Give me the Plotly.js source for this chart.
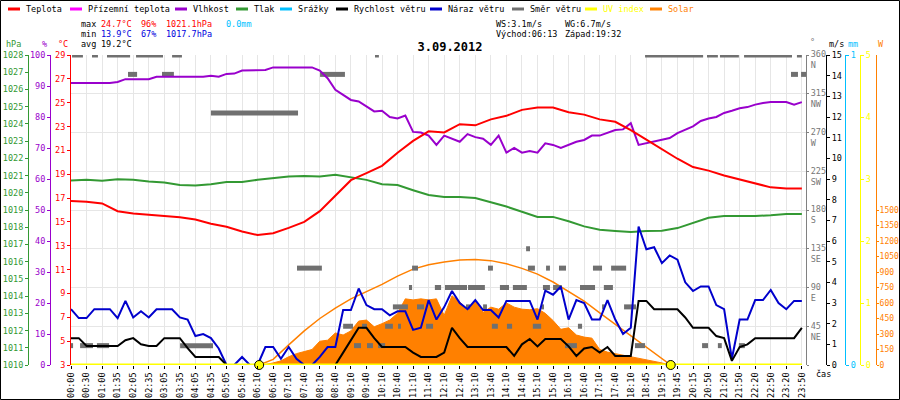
<!DOCTYPE html>
<html><head><meta charset="utf-8">
<script src="https://cdn.plot.ly/plotly-3.0.1.min.js"></script>
<style>html,body{margin:0;padding:0;background:#fff}#chart{width:900px;height:400px}</style>
</head><body><div id="chart"></div>
<script>
// ---------- DATA ----------
const timeLabels = ['00:00','00:30','01:00','01:35','02:05','02:35','03:05','03:35','04:05','04:35','05:05','05:40',
 '06:10','06:40','07:10','07:40','08:10','08:40','09:10','09:40','10:10','10:40','11:10','11:40','12:10','12:40',
 '13:10','13:40','14:10','14:40','15:10','15:40','16:10','16:40','17:10','17:40','18:10','18:45','19:15','19:45',
 '20:15','20:50','21:20','21:50','22:20','22:50','23:20','23:50'];

// values at every tick label (every 6th sample)
const temperature = [16.76,16.7,16.55,15.9,15.7,15.6,15.5,15.4,15.2,14.85,
 14.6,14.2,13.9,14.05,14.5,15.0,15.9,17.2,18.5,19.1,
 19.7,20.8,21.8,22.6,22.5,23.2,23.1,23.6,23.9,24.4,
 24.6,24.6,24.2,24.0,23.6,23.4,22.7,21.9,21.1,20.3,
 19.6,19.3,18.9,18.55,18.2,17.9,17.8,17.8];
const pressure = [1020.72,1020.76,1020.7,1020.78,1020.76,1020.65,1020.6,1020.45,1020.42,1020.5,
 1020.63,1020.62,1020.75,1020.85,1020.95,1020.97,1020.95,1021.05,1020.9,1020.75,
 1020.5,1020.45,1020.15,1019.87,1019.76,1019.76,1019.7,1019.45,1019.2,1018.9,
 1018.6,1018.6,1018.35,1018.05,1017.85,1017.78,1017.72,1017.78,1017.8,1017.95,
 1018.24,1018.55,1018.65,1018.65,1018.65,1018.7,1018.77,1018.77];
const solarMax = [null,null,null,null,null,null,null,null,null,null,null,null,null,
 55,195,330,450,550,640,707,780,860,928,970,997,1016,1020,1010,980,935,880,803,715,619,505,395,280,172,65,
 null,null,null,null,null,null,null,null,null];
const uvIndex = timeLabels.map(() => 0);
const rain = timeLabels.map(() => 0);

// values at every 3rd sample
const humidity = [91,91,91,91,91,91,91.3,92.2,92.2,92.2,
 92.2,93,93,93,93,93,93,93,93.3,93,
 93.9,94,95,95,95.2,95.2,96,96,96,96,
 96,96,95,92.5,88.8,87,85.5,85,83.5,81.8,
 82,80,79.5,80.5,75.2,75,74,71,74,73,
 72,74.5,73.5,73,71,74,68.5,70,68.5,69,
 68.5,71.5,71,70,71,72,72.6,74,74,75,
 75.8,76,78,71,71.5,72,72.5,73.2,74.8,76,
 77,78.7,79.5,80,81.3,82,82.8,83.2,84,84.5,
 84.8,84.8,84.8,84,84.8];
const windGust = [2.7,2.27,2.27,2.7,2.7,2.7,2.27,3.1,2.3,2.6,
 2.3,2.7,2.7,2.7,2.3,2.2,1.4,1.5,1.3,0.8,
 0,0,0.39,0,0,0.87,0.87,0.3,0.87,0.3,
 0,0,0.39,0.87,0.87,2.66,2.66,3.7,2.9,2.7,
 2.7,2.4,2.6,2.6,1.7,1.8,3.14,2.2,2.8,3.58,
 3.0,2.7,3.14,2.66,2.66,2.3,3.1,3.1,3.1,3.1,
 2.2,3.6,3.4,3.8,2.2,3.14,3.0,2.2,2.2,3.14,
 2.2,1.5,1.8,6.7,5.6,5.7,4.93,5.3,5.1,4.0,
 3.58,3.8,3.8,2.9,2.7,0.3,2.2,2.2,3.14,3.14,
 3.63,3.0,2.7,3.1,3.1];
const windSpeed = [1.3,1.3,0.92,0.92,0.92,0.92,0.92,1.2,1.3,1.0,
 0.92,0.92,1.3,1.3,1.3,0.82,0.39,0.39,0.39,0.39,
 0,0,0,0,0,0,0,0,0,0,
 0,0,0,0,0,0.6,1.2,1.8,1.8,1.3,
 0.87,0.87,0.87,0.87,0.6,0.39,0.39,0.39,0.6,1.8,
 1.3,0.87,0.87,0.87,0.87,0.87,0.87,0.44,1.0,1.26,
 0.9,1.26,1.26,1.26,0.9,0.44,0.8,0.87,0.6,0.87,
 0.44,0.44,0.44,3.1,3.1,2.7,2.7,2.7,2.7,2.3,
 1.8,1.8,1.8,1.4,1.3,0.2,0.87,1.0,1.3,1.3,
 1.3,1.3,1.3,1.3,1.8];
const solar = [null,null,null,null,null,null,null,null,null,null,null,null,
 null,null,null,null,null,null,null,null,null,null,null,null,0,
 5,20,40,80,110,130,150,230,240,310,
 290,330,425,435,370,400,435,500,640,630,
 640,630,640,480,670,610,530,620,510,560,
 540,600,560,540,535,545,500,430,345,360,
 290,270,260,150,125,110,95,85,65,50,
 35,20,0,
 null,null,null,null,null,null,null,null,null,null,null,null,null,null,null,null,null];

// wind direction runs (sample index from..to, degrees)
const dirFrom = [0.4,8.1,13.9,25.1,39.0,117.3,221.5,245.4,250.4,259.7,280.1,
 22.0,35.1,96.1,277.8,281.7,
 54.0,
 175.6,
 87.2,131.6,160.9,176.3,183.3,188.3,201.4,208.4,
 130.4,140.4,144.3,153.2,165.5,170.5,182.1,186.0,196.4,205.6,
 124.2,133.5,152.4,159.0,181.4,204.9,213.4,
 105.0,112.3,121.2,126.2,137.0,162.4,168.2,178.2,195.6,
 0,3.5,10.0,42.1,109.2,114.2,118.5,190.6,217.6,243.5,249.6,257.7];
const dirTo = [4.6,10.4,22.8,35.5,42.8,118.8,243.9,249.6,257.7,278.2,282.0,
 25.5,39.7,105.7,280.5,284.4,
 87.6,
 177.1,
 96.8,133.9,162.8,179.0,184.8,191.0,204.9,214.2,
 131.6,142.8,152.8,159.7,169.0,175.9,184.8,189.4,202.2,209.1,
 130.0,136.2,154.0,160.5,182.5,206.0,218.0,
 108.8,114.2,124.2,127.3,139.7,164.7,170.2,181.4,197.2,
 0.8,8.5,14.7,54.8,111.9,116.5,121.2,195.2,221.5,245.8,251.1,260.0];
const dirDeg = [360,360,360,360,360,360,360,360,360,360,360,
 337.5,337.5,337.5,337.5,337.5,
 292.5,
 135,
 112.5,112.5,112.5,112.5,112.5,112.5,112.5,112.5,
 90,90,90,90,90,90,90,90,90,90,
 67.5,67.5,67.5,67.5,67.5,67.5,67.5,
 45,45,45,45,45,45,45,45,45,
 22.5,22.5,22.5,22.5,22.5,22.5,22.5,22.5,22.5,22.5,22.5,22.5];

const sunrise = '06:13', sunset = '19:32';
const dirTicks = [0,45,90,135,180,225,270,315,360];
const dirNames = ['','NE','E','SE','S','SW','W','NW','N'];
const solarTicks = [0,150,300,450,600,750,900,1050,1200,1350,1500];

// ---------- HELPERS ----------
const W=900,H=400,T=55,B=35;
const X = px => px/W;
const Y = py => (H-B-py)/(H-T-B);
const FONT = 'DejaVu Sans Mono';
const FS = 8.5;
const C = {red:'#ff0000', mag:'#ff00ff', pur:'#9900cc', grn:'#339933', cyan:'#00bfff', blk:'#000000',
  blue:'#0000cc', gray:'#707070', yel:'#ffff00', org:'#ff8000', grid:'#e6e6e6'};

const idx6 = timeLabels.map((_,k)=>6*k);
const idx3 = humidity.map((_,m)=>3*m);
const toMin = t => { const p=t.split(':'); return +p[0]*60 + +p[1]; };
function timeToIdx(t){
  const v = toMin(t);
  for(let k=0;k<timeLabels.length-1;k++){
    const a=toMin(timeLabels[k]), b=toMin(timeLabels[k+1]);
    if(v>=a && v<=b) return 6*k + 6*(v-a)/(b-a);
  }
  return 6*(timeLabels.length-1);
}
const riseI = timeToIdx(sunrise), setI = timeToIdx(sunset);

const dx=[], dy=[];
dirFrom.forEach((a,j)=>{ dx.push(a, dirTo[j], null); dy.push(dirDeg[j], dirDeg[j], null); });

const sx=[riseI], sy=[0];
solarMax.forEach((v,k)=>{ if(v!==null){ sx.push(idx6[k]); sy.push(v); } });
sx.push(setI); sy.push(0);

// ---------- TRACES ----------
const traces = [
  {x:idx3, y:solar, yaxis:'y', type:'scatter', mode:'lines', fill:'tozeroy', fillcolor:C.org,
   line:{color:C.org, width:1}, connectgaps:false, hoverinfo:'skip'},
  {x:sx, y:sy, yaxis:'y', type:'scatter', mode:'lines', line:{color:C.org, width:1.5}, hoverinfo:'skip'},
  {x:dx, y:dy, yaxis:'y2', type:'scatter', mode:'lines', line:{color:C.gray, width:5}, connectgaps:false, hoverinfo:'skip'},
  {x:idx6, y:rain, yaxis:'y3', type:'scatter', mode:'lines', line:{color:C.cyan, width:1}, hoverinfo:'skip'},
  {x:idx6, y:pressure, yaxis:'y4', type:'scatter', mode:'lines', line:{color:C.grn, width:2}, hoverinfo:'skip'},
  {x:idx3, y:humidity, yaxis:'y5', type:'scatter', mode:'lines', line:{color:C.pur, width:2}, hoverinfo:'skip'},
  {x:idx6, y:temperature, yaxis:'y6', type:'scatter', mode:'lines', line:{color:C.red, width:2}, hoverinfo:'skip'},
  {x:idx3, y:windGust, yaxis:'y7', type:'scatter', mode:'lines', line:{color:C.blue, width:2}, hoverinfo:'skip'},
  {x:idx3, y:windSpeed, yaxis:'y7', type:'scatter', mode:'lines', line:{color:C.blk, width:2}, hoverinfo:'skip'},
  {x:idx6, y:uvIndex, yaxis:'y8', type:'scatter', mode:'lines', line:{color:C.yel, width:3}, cliponaxis:false, hoverinfo:'skip'},
  {x:[riseI,setI], y:[0,0], yaxis:'y8', type:'scatter', mode:'markers', cliponaxis:false,
   marker:{size:9, color:C.yel, line:{color:'#000', width:1}}, hoverinfo:'skip'}
];

// ---------- AXES ----------
function yax(color, pos, side, range, extra){
  return Object.assign({
    range:range, anchor:'free', position:X(pos), side:side, overlaying:'y',
    showline:true, linecolor:color, linewidth:1, ticks:'outside', ticklen:3, tickcolor:color, tickwidth:1,
    tickfont:{family:FONT, size:FS, color:color}, showgrid:false, zeroline:false, fixedrange:true
  }, extra||{});
}
const yW = yax(C.org, 876, 'right', [0,3000], {tickmode:'array', tickvals:solarTicks, ticklen:2,
  ticklabelstandoff:-1, tickfont:{family:FONT, size:8, color:C.org}});
delete yW.overlaying;

const layout = {
  width:W, height:H, margin:{l:0,r:0,t:T,b:B,pad:0},
  paper_bgcolor:'#fff', plot_bgcolor:'#fff', showlegend:false,
  font:{family:FONT, size:FS, color:'#000'},
  title:{text:'<b>3.09.2012</b>', x:0.5, xref:'container', xanchor:'center', y:1-47/H, yref:'container', yanchor:'middle',
    font:{family:FONT, size:12, color:'#000'}},
  xaxis:{domain:[X(70),X(806)], range:[-0.386,283.6], tickmode:'array', tickvals:idx6, ticktext:timeLabels,
    tickangle:-90, showgrid:true, gridcolor:C.grid, gridwidth:1, ticks:'outside', ticklen:3, tickcolor:'#000',
    zeroline:false, showline:false, tickfont:{family:FONT, size:FS, color:'#000'}, fixedrange:true},
  yaxis: yW,
  yaxis2: yax('#808080', 806, 'right', [0,360], {tickmode:'array', tickvals:dirTicks,
    ticktext:dirTicks.map((v,i)=> v===0 ? '' : v+'<br>'+dirNames[i]), showgrid:true, gridcolor:C.grid, gridwidth:1,
    tickfont:{family:FONT, size:FS, color:'#777'}, ticklen:2, ticklabelshift:5}),
  yaxis3: yax(C.cyan, 845, 'right', [0,1], {tickmode:'array', tickvals:[0,1]}),
  yaxis4: yax(C.grn, 28, 'left', [1010,1028], {dtick:1, tick0:1010}),
  yaxis5: yax(C.pur, 50, 'left', [0,100], {dtick:10, tick0:0}),
  yaxis6: yax(C.red, 70, 'left', [3,29], {dtick:2, tick0:3}),
  yaxis7: yax(C.blk, 826, 'right', [0,15], {dtick:1, tick0:0}),
  yaxis8: yax(C.yel, 860, 'right', [0,5], {dtick:1, tick0:0}),
  annotations:[], shapes:[]
};

function txt(px, py, text, color, size){
  layout.annotations.push({xref:'paper', yref:'paper', x:X(px), y:Y(py), text:text, showarrow:false,
    xanchor:'left', yanchor:'middle', borderpad:0, font:{family:FONT, size:size||FS, color:color||'#000'}});
}
// legend
const legendItems = [
  [8,20,C.red,'Teplota','#000'],[70,82,C.mag,'Přízemní teplota','#000'],[175,187,C.pur,'Vlhkost','#000'],
  [236,248,C.grn,'Tlak','#000'],[280,292,C.cyan,'Srážky','#000'],[336,348,C.blk,'Rychlost větru','#000'],
  [430,442,C.blue,'Náraz větru','#000'],[512,524,C.gray,'Směr větru','#000'],[585,597,C.yel,'UV index',C.yel],
  [650,662,C.org,'Solar',C.org]];
legendItems.forEach(([a,b,col,label,tc])=>{
  layout.shapes.push({type:'line', xref:'paper', yref:'paper', x0:X(a), x1:X(b), y0:Y(9), y1:Y(9), line:{color:col, width:3}});
  txt(b+5, 9, label, tc);
});
// stats
const BL='#0000dd';
txt(80,24,'max'); txt(100,24,'24.7°C',C.red); txt(140,24,'96%',C.red); txt(165,24,'1021.1hPa',C.red); txt(225,24,'0.0mm',C.cyan);
txt(80,34,'min'); txt(100,34,'13.9°C',BL); txt(140,34,'67%',BL); txt(165,34,'1017.7hPa',BL);
txt(80,44,'avg'); txt(100,44,'19.2°C');
txt(495,24,'WS:3.1m/s'); txt(564,24,'WG:6.7m/s'); txt(495,34,'Východ:06:13'); txt(564,34,'Západ:19:32');
// axis titles
txt(5,44,'hPa',C.grn); txt(41,44,'%',C.pur); txt(57,44,'°C',C.red);
txt(809,42,'°','#777'); txt(828,44,'m/s',C.blk); txt(847,44,'mm',C.cyan); txt(877,44,'W',C.org);
txt(815,374,'čas');
// frame
layout.shapes.push({type:'rect', xref:'paper', yref:'paper', x0:X(0.5), x1:X(899.5), y0:Y(399.5), y1:Y(0.5),
  line:{color:'#000', width:1}, fillcolor:'rgba(0,0,0,0)'});

Plotly.newPlot('chart', traces, layout, {displayModeBar:false, staticPlot:true});
</script></body></html>
